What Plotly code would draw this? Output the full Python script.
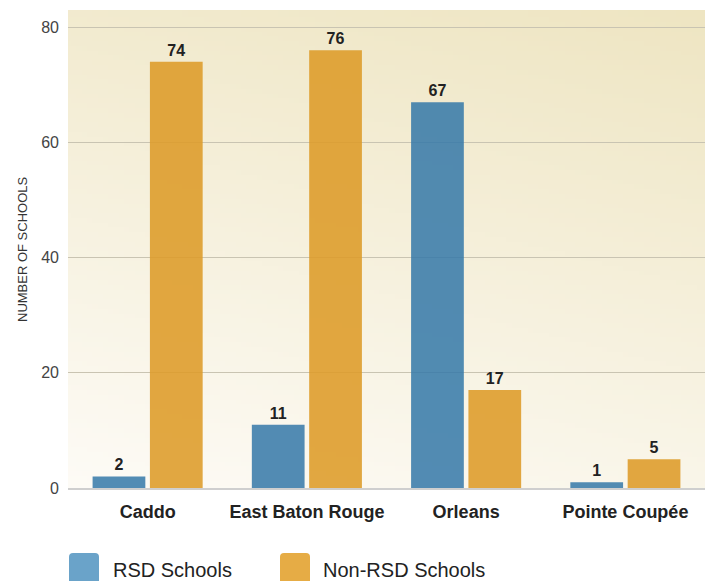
import base64, struct, zlib
import plotly.graph_objects as go

districts = ["Caddo", "East Baton Rouge", "Orleans", "Pointe Coupée"]
rsd_schools = [2, 11, 67, 1]
non_rsd_schools = [74, 76, 17, 5]
y_ticks = [0, 20, 40, 60, 80]
series_names = ["RSD Schools", "Non-RSD Schools"]

BLUE = "rgba(52,120,168,0.85)"
ORANGE = "rgba(221,155,40,0.88)"
LEG_BLUE = "#6aa3c9"
LEG_ORANGE = "#e6ac45"


def gradient_png(w, h):
    top = (238, 229, 194)
    bot = (253, 251, 246)
    rows = []
    for y in range(h):
        yn = y / (h - 1)
        row = bytearray([0])
        for x in range(w):
            xn = x / (w - 1)
            t = 0.75 * (1 - yn) + 0.25 * xn
            t = max(0.0, min(1.0, t))
            for a, b in zip(bot, top):
                row.append(int(round(a + (b - a) * t)))
        rows.append(bytes(row))
    raw = b"".join(rows)

    def chunk(tag, data):
        return (struct.pack(">I", len(data)) + tag + data
                + struct.pack(">I", zlib.crc32(tag + data) & 0xffffffff))

    png = (b"\x89PNG\r\n\x1a\n"
           + chunk(b"IHDR", struct.pack(">IIBBBBB", w, h, 8, 2, 0, 0, 0))
           + chunk(b"IDAT", zlib.compress(raw))
           + chunk(b"IEND", b""))
    return "data:image/png;base64," + base64.b64encode(png).decode()


label_font = dict(family="Liberation Sans, Arial, sans-serif", size=16,
                  color="#222222", weight="bold")

fig = go.Figure()
fig.add_trace(go.Bar(
    x=districts, y=rsd_schools, name=series_names[0],
    marker=dict(color=BLUE, line=dict(width=0)),
    text=rsd_schools, textposition="outside", cliponaxis=False,
    textfont=label_font, showlegend=False, hoverinfo="skip",
))
fig.add_trace(go.Bar(
    x=districts, y=non_rsd_schools, name=series_names[1],
    marker=dict(color=ORANGE, line=dict(width=0)),
    text=non_rsd_schools, textposition="outside", cliponaxis=False,
    textfont=label_font, showlegend=False, hoverinfo="skip",
))

W, H = 705, 581
ML, MR, MT, MB = 68, 0, 10, 93
PW, PH = W - ML - MR, H - MT - MB


def px_x(px):
    return (px - ML) / PW


def px_y(py):
    return (H - MB - py) / PH


def rounded_rect(x0, y0, x1, y1, r):
    X0, X1 = px_x(x0), px_x(x1)
    Y0, Y1 = px_y(y0), px_y(y1)
    rx, ry = r / PW, r / PH
    return (f"M{X0+rx},{Y0} L{X1-rx},{Y0} Q{X1},{Y0} {X1},{Y0-ry} "
            f"L{X1},{Y1+ry} Q{X1},{Y1} {X1-rx},{Y1} L{X0+rx},{Y1} "
            f"Q{X0},{Y1} {X0},{Y1+ry} L{X0},{Y0-ry} Q{X0},{Y0} {X0+rx},{Y0} Z")


shapes = [
    dict(type="path", xref="paper", yref="paper", path=rounded_rect(69, 553, 99, 595, 4),
         fillcolor=LEG_BLUE, line=dict(width=0)),
    dict(type="path", xref="paper", yref="paper", path=rounded_rect(280, 553, 310, 595, 4),
         fillcolor=LEG_ORANGE, line=dict(width=0)),
]

annotations = [
    dict(text=series_names[0], xref="paper", yref="paper", x=px_x(111), y=px_y(570),
         xanchor="left", yanchor="middle", showarrow=False,
         font=dict(family="Liberation Sans, Arial, sans-serif", size=20, color="#222222")),
    dict(text=series_names[1], xref="paper", yref="paper", x=px_x(321), y=px_y(570),
         xanchor="left", yanchor="middle", showarrow=False,
         font=dict(family="Liberation Sans, Arial, sans-serif", size=20, color="#222222")),
    dict(text="NUMBER OF SCHOOLS", xref="paper", yref="paper", x=px_x(22), y=0.5,
         xanchor="center", yanchor="middle", textangle=-90, showarrow=False,
         font=dict(family="Liberation Sans Narrow, Liberation Sans, Arial, sans-serif",
                   size=13, color="#333333")),
]

fig.update_layout(
    width=W, height=H,
    margin=dict(l=ML, r=MR, t=MT, b=MB, autoexpand=False),
    paper_bgcolor="white",
    plot_bgcolor="rgba(0,0,0,0)",
    barmode="group",
    bargap=0.28,
    bargroupgap=0.08,
    showlegend=False,
    hovermode=False,
    shapes=shapes,
    annotations=annotations,
    images=[dict(source=gradient_png(120, 100), xref="paper", yref="paper",
                 x=0, y=1, sizex=1, sizey=1, xanchor="left", yanchor="top",
                 sizing="stretch", layer="below")],
    xaxis=dict(
        showline=True, linecolor="#cfcfcf", linewidth=2,
        showgrid=False, ticks="", ticklabelstandoff=6,
        tickfont=dict(family="Liberation Sans, Arial, sans-serif", size=18, color="#222222",
                      weight="bold"),
    ),
    yaxis=dict(
        range=[0, 83], tickvals=y_ticks, showgrid=True,
        gridcolor="#c9c4b2", gridwidth=1, zeroline=False, showline=False,
        ticks="", ticklabelstandoff=8,
        tickfont=dict(family="Liberation Sans, Arial, sans-serif", size=16, color="#444444"),
    ),
)

fig.write_html("out.html",
               config={"displayModeBar": False, "staticPlot": True},
               post_script="document.body.style.margin='0px';document.body.style.overflow='hidden';")
